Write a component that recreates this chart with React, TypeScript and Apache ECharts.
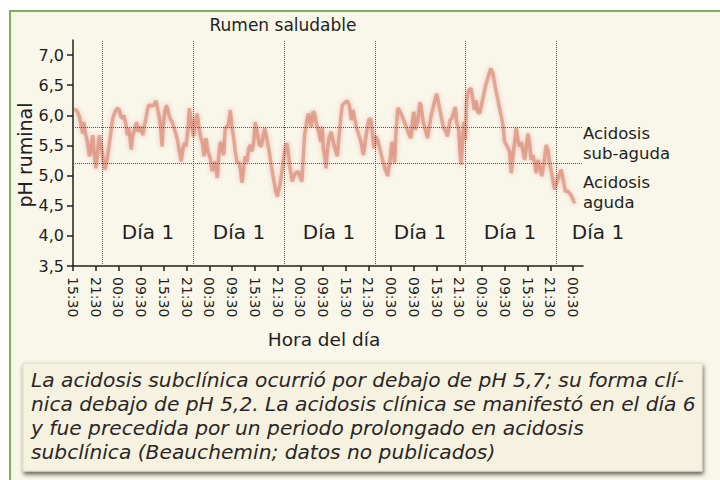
import React, { useEffect, useRef } from 'react';
import * as echarts from 'echarts';

const FONT = 'DejaVu Sans';
const INK = '#231f20';

const X_TICKS = [
  '15:30', '21:30', '00:30', '09:30',
  '15:30', '21:30', '00:30', '09:30',
  '15:30', '21:30', '00:30', '09:30',
  '15:30', '21:30', '00:30', '09:30',
  '15:30', '21:30', '00:30', '09:30',
  '15:30', '21:30', '00:30',
];
const Y_TICKS = [3.5, 4.0, 4.5, 5.0, 5.5, 6.0, 6.5, 7.0];

// sample positions (in tick-interval units from the first 15:30 tick)
const SAMPLE_POS = [
  0.05, 0.13, 0.19, 0.28, 0.38, 0.43, 0.48, 0.53, 0.63, 0.72, 0.78, 0.87, 0.92, 1.01, 1.07, 1.16, 1.22, 1.28, 1.33, 1.41,
  1.51, 1.63, 1.75, 1.85, 1.95, 2.04, 2.10, 2.19, 2.24, 2.33, 2.39, 2.45, 2.51, 2.56, 2.63, 2.73, 2.80, 2.87, 2.98, 3.07,
  3.12, 3.21, 3.27, 3.33, 3.46, 3.56, 3.65, 3.71, 3.80, 3.86, 3.92, 3.97, 4.05, 4.12, 4.19, 4.27, 4.36, 4.47, 4.58, 4.68,
  4.76, 4.84, 4.91, 4.97, 5.06, 5.12, 5.18, 5.24, 5.31, 5.38, 5.46, 5.53, 5.60, 5.71, 5.76, 5.85, 5.94, 6.04, 6.12, 6.19,
  6.26, 6.35, 6.41, 6.48, 6.56, 6.63, 6.70, 6.78, 6.85, 6.92, 7.00, 7.07, 7.14, 7.22, 7.29, 7.36, 7.44, 7.51, 7.58, 7.66,
  7.73, 7.80, 7.88, 7.95, 8.02, 8.10, 8.20, 8.28, 8.35, 8.43, 8.50, 8.61, 8.72, 8.83, 8.92, 8.99, 9.11, 9.21, 9.31, 9.40,
  9.46, 9.55, 9.65, 9.72, 9.80, 9.90, 9.99, 10.07, 10.13, 10.19, 10.28, 10.35, 10.43, 10.48, 10.57, 10.63, 10.72, 10.81, 10.90, 10.97,
  11.01, 11.07, 11.13, 11.19, 11.26, 11.36, 11.45, 11.56, 11.63, 11.70, 11.78, 11.85, 11.95, 12.07, 12.16, 12.24, 12.32, 12.39, 12.48, 12.58,
  12.68, 12.77, 12.83, 12.92, 13.01, 13.10, 13.17, 13.24, 13.32, 13.41, 13.51, 13.62, 13.74, 13.85, 13.95, 14.03, 14.09, 14.15, 14.21, 14.29,
  14.36, 14.47, 14.58, 14.68, 14.80, 14.87, 14.94, 14.99, 15.06, 15.16, 15.27, 15.32, 15.41, 15.50, 15.60, 15.68, 15.75, 15.85, 15.94, 16.00,
  16.09, 16.19, 16.29, 16.41, 16.48, 16.59, 16.67, 16.76, 16.82, 16.88, 16.97, 17.03, 17.08, 17.14, 17.20, 17.26, 17.32, 17.41, 17.51, 17.58,
  17.66, 17.73, 17.80, 17.89, 17.96, 18.08, 18.18, 18.29, 18.38, 18.48, 18.58, 18.70, 18.82, 18.92, 18.99, 19.11, 19.21, 19.28, 19.36, 19.43,
  19.50, 19.58, 19.65, 19.72, 19.80, 19.87, 19.94, 20.02, 20.09, 20.16, 20.24, 20.31, 20.38, 20.46, 20.53, 20.63, 20.72, 20.82, 20.90, 20.97,
  21.07, 21.19, 21.28, 21.37, 21.48, 21.57, 21.66, 21.78, 21.85, 21.95, 22.07,
];

const PH_VALUES = [
  6.10, 6.09, 6.06, 5.98, 5.79, 5.70, 5.89, 5.73, 5.56, 5.32, 5.43, 5.67, 5.40, 5.12, 5.34, 5.67, 5.54, 5.40, 5.26, 5.10,
  5.29, 5.62, 5.95, 6.06, 6.12, 6.09, 5.98, 5.95, 6.00, 5.84, 5.67, 5.79, 5.62, 5.43, 5.67, 5.79, 5.89, 5.73, 5.81, 5.67,
  5.79, 5.95, 6.09, 6.17, 6.16, 6.17, 6.24, 6.14, 5.95, 5.79, 5.48, 5.84, 6.09, 6.17, 6.06, 5.95, 5.89, 5.76, 5.62, 5.40,
  5.23, 5.45, 5.54, 5.48, 5.79, 6.12, 5.95, 5.79, 5.65, 5.89, 6.03, 5.84, 5.67, 5.51, 5.32, 5.62, 5.40, 5.29, 5.07, 5.18,
  5.23, 4.96, 5.32, 5.56, 5.48, 5.34, 5.79, 5.81, 5.87, 6.09, 5.79, 5.62, 5.40, 5.21, 5.23, 5.12, 4.88, 5.12, 5.32, 5.23,
  5.45, 5.51, 5.40, 5.56, 5.89, 5.73, 5.51, 5.48, 5.62, 5.79, 5.67, 5.45, 5.18, 4.93, 4.74, 4.65, 4.85, 5.12, 5.40, 5.54,
  5.43, 5.12, 4.90, 4.99, 5.04, 5.07, 4.99, 4.90, 5.29, 5.67, 5.89, 6.03, 5.92, 5.81, 6.07, 6.03, 5.84, 5.73, 5.56, 5.81,
  5.45, 5.34, 5.12, 5.40, 5.62, 5.73, 5.56, 5.40, 5.32, 5.62, 5.95, 6.17, 6.21, 6.24, 6.17, 5.92, 6.09, 5.95, 5.79, 5.67,
  5.54, 5.34, 5.48, 5.73, 5.92, 5.95, 5.73, 5.45, 5.65, 5.59, 5.43, 5.26, 5.10, 4.99, 5.26, 5.56, 5.43, 5.21, 5.70, 6.12,
  6.09, 6.00, 5.89, 5.79, 5.67, 5.62, 5.92, 6.06, 5.76, 5.89, 6.22, 6.14, 5.89, 5.76, 5.62, 5.81, 5.98, 6.14, 6.28, 6.36,
  6.20, 6.00, 5.81, 5.73, 5.65, 5.92, 5.95, 6.06, 6.14, 5.89, 5.76, 5.37, 5.18, 5.54, 5.89, 5.59, 6.25, 6.42, 6.45, 6.31,
  6.09, 6.25, 6.06, 6.03, 6.14, 6.36, 6.53, 6.67, 6.78, 6.69, 6.47, 6.25, 6.03, 5.84, 5.56, 5.48, 5.40, 5.04, 5.32, 5.56,
  5.79, 5.59, 5.48, 5.56, 5.40, 5.26, 5.48, 5.70, 5.54, 5.26, 5.34, 5.21, 5.04, 5.26, 5.15, 4.99, 5.21, 5.51, 5.43, 5.21,
  5.02, 4.77, 4.88, 4.99, 5.10, 4.93, 4.74, 4.74, 4.71, 4.65, 4.54,
];

const THRESHOLDS = [5.8, 5.2];
const DAY_BOUNDS = [1.28, 5.28, 9.28, 13.28, 17.28, 21.28];
const DAY_LABELS = ['Día 1', 'Día 1', 'Día 1', 'Día 1', 'Día 1', 'Día 1'];
const ZONE_LINES = ['Acidosis', 'sub-aguda', 'Acidosis', 'aguda'];
const TITLE = 'Rumen saludable';
const X_NAME = 'Hora del día';
const Y_NAME = 'pH ruminal';
const CAPTION = [
  'La acidosis subclínica ocurrió por debajo de pH 5,7; su forma clí-',
  'nica debajo de pH 5,2. La acidosis clínica se manifestó en el día 6',
  'y fue precedida por un periodo prolongado en acidosis',
  'subclínica (Beauchemin; datos no publicados)',
];

const DAY_X = [148, 239, 329, 420, 510, 598];
const ZONE_Y = [133.5, 153.5, 182.5, 202.5];
const CAPTION_Y = [379.5, 403.5, 427.5, 451.5];

function buildOption(): any {
  const data = SAMPLE_POS.map((p, i) => [p, PH_VALUES[i]]);
  const tickIdx = X_TICKS.map((_, i) => i);
  const txt = (x: number, y: number, text: string, size: number, extra: any = {}) => ({
    type: 'text',
    x,
    y,
    silent: true,
    style: {
      text,
      fontSize: size,
      fontFamily: FONT,
      fill: INK,
      align: 'center',
      verticalAlign: 'middle',
      ...extra,
    },
  });
  return {
    animation: false,
    backgroundColor: '#f9f6ea',
    grid: { left: 73, top: 40, width: 510, height: 226, containLabel: false },
    xAxis: {
      type: 'value',
      min: 0,
      max: 22.44,
      interval: 1,
      splitLine: { show: false },
      axisLine: { show: true, lineStyle: { color: INK, width: 1.5 } },
      axisTick: { show: true, length: 5, customValues: tickIdx, lineStyle: { color: INK, width: 1.5 } },
      axisLabel: {
        customValues: tickIdx,
        rotate: -90,
        margin: 11,
        fontSize: 14,
        fontFamily: FONT,
        color: INK,
        formatter: (v: number) => X_TICKS[Math.round(v)] ?? '',
      },
    },
    yAxis: {
      type: 'value',
      min: 3.5,
      max: 7.25,
      interval: 0.5,
      splitLine: { show: false },
      axisLine: { show: true, lineStyle: { color: INK, width: 1.5 } },
      axisTick: { show: true, length: 6, customValues: Y_TICKS, lineStyle: { color: INK, width: 1.5 } },
      axisLabel: {
        customValues: Y_TICKS,
        margin: 9,
        fontSize: 16,
        fontFamily: FONT,
        color: INK,
        formatter: (v: number) => v.toFixed(1).replace('.', ','),
      },
    },
    series: [
      {
        type: 'line',
        data,
        showSymbol: false,
        smooth: false,
        clip: false,
        lineStyle: {
          color: 'rgba(214,112,92,0.5)',
          width: 3.5,
          shadowBlur: 4,
          shadowColor: 'rgba(196,70,50,0.6)',
        },
        markLine: {
          silent: true,
          symbol: 'none',
          label: { show: false },
          lineStyle: { color: '#555', type: 'dotted', width: 1 },
          data: [
            ...THRESHOLDS.map((v) => ({ yAxis: v })),
            ...DAY_BOUNDS.map((v) => ({ xAxis: v })),
          ],
        },
      },
    ],
    graphic: [
      { type: 'rect', silent: true, shape: { x: 0, y: 0, width: 720, height: 10 }, style: { fill: '#ffffff' } },
      { type: 'rect', silent: true, shape: { x: 0, y: 0, width: 9, height: 480 }, style: { fill: '#ffffff' } },
      { type: 'line', silent: true, shape: { x1: 9, y1: 11, x2: 720, y2: 11 }, style: { stroke: '#7fb05e', lineWidth: 2 } },
      { type: 'line', silent: true, shape: { x1: 10, y1: 10, x2: 10, y2: 480 }, style: { stroke: '#7fb05e', lineWidth: 2 } },
      txt(283, 25, TITLE, 17),
      txt(324, 339, X_NAME, 18.5),
      { ...txt(25, 155, Y_NAME, 19), rotation: Math.PI / 2 },
      ...DAY_LABELS.map((d, i) => txt(DAY_X[i], 232, d, 20)),
      ...ZONE_LINES.map((t, i) => txt(583, ZONE_Y[i], t, 16.5, { align: 'left' })),
      {
        type: 'rect',
        silent: true,
        shape: { x: 23, y: 363, width: 679, height: 108 },
        style: {
          fill: '#f5f2df',
          stroke: '#e2ddc6',
          lineWidth: 1,
          shadowBlur: 4,
          shadowOffsetX: 1,
          shadowOffsetY: 3,
          shadowColor: 'rgba(0,0,0,0.6)',
        },
      },
      ...CAPTION.map((line, i) =>
        txt(31, CAPTION_Y[i], line, 20.2, { align: 'left', fontStyle: 'italic', fill: '#2b2728' }),
      ),
    ],
  };
}

export default function App() {
  const ref = useRef<HTMLDivElement>(null);
  useEffect(() => {
    if (!ref.current) return;
    const chart = echarts.init(ref.current, null, { renderer: 'svg' });
    chart.setOption(buildOption());
    return () => chart.dispose();
  }, []);
  return (
    <div
      ref={ref}
      style={{ position: 'fixed', left: 0, top: 0, width: 720, height: 480 }}
    />
  );
}
